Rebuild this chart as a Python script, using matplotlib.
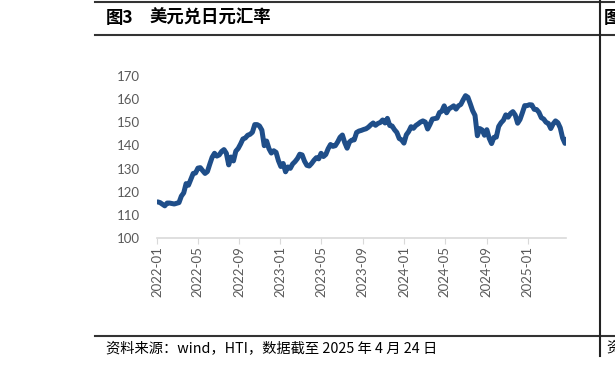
import matplotlib
matplotlib.use("Agg")
import matplotlib.pyplot as plt
import matplotlib.dates as mdates
from matplotlib.lines import Line2D
import pandas as pd

plt.rcParams['font.family'] = ['Noto Sans CJK SC', 'DejaVu Sans']

# USD/JPY, weekly (Mondays) from 2022-01-03, last point 2025-04-24
y2022 = [115.6, 115.3, 114.6, 113.9, 115.1,
         115.1, 114.9, 114.7, 115.0,
         115.3, 118.1, 119.5, 123.5,
         122.8, 125.3, 127.9, 128.1,
         130.2, 130.4, 129.1, 127.9, 128.7,
         131.9, 134.9, 136.6, 135.4,
         135.9, 137.4, 138.2, 136.6,
         131.6, 135.0, 133.3, 137.5, 138.7,
         140.6, 142.8, 143.2, 144.4,
         144.8, 145.7, 149.0, 149.0, 148.4,
         146.6, 139.9, 141.9, 138.6,
         136.7, 137.7, 137.0, 133.4]
y2023 = [130.9, 132.2, 128.6, 130.7, 130.1,
         132.0, 133.0, 134.3, 136.2,
         135.9, 133.2, 131.4, 131.1,
         132.2, 133.6, 134.7, 134.2,
         136.6, 135.2, 136.1, 138.6, 140.4,
         139.6, 139.9, 141.5, 143.5,
         144.5, 141.2, 138.8, 141.5, 142.3,
         142.4, 145.6, 146.2, 146.5,
         146.9, 147.2, 147.9, 148.9,
         149.7, 148.7, 149.5, 149.9, 151.0,
         149.7, 151.7, 148.6, 148.4,
         146.8, 145.6, 143.0, 142.4]
y2024 = [141.0, 144.6, 146.0, 148.1, 147.4,
         148.6, 149.3, 150.1, 150.6,
         150.1, 147.1, 149.1, 151.4,
         151.6, 151.8, 154.2, 154.8, 157.1,
         154.1, 155.8, 156.4, 157.1,
         155.7, 157.1, 157.7, 159.7,
         161.5, 160.8, 158.0, 155.0, 153.0,
         144.2, 147.3, 146.7, 144.4,
         146.8, 143.1, 140.8, 143.5, 143.6,
         148.2, 149.8, 150.9, 153.2,
         152.2, 153.8, 154.6, 153.1,
         149.6, 151.2, 154.1, 157.2]
y2025 = [157.2, 157.6, 157.5, 155.6, 155.5,
         154.3, 152.0, 151.4, 150.0,
         149.5, 147.3, 149.3, 150.6, 149.8,
         147.6, 143.2, 140.9,
         142.7]

usdjpy = y2022 + y2023 + y2024 + y2025
dates = list(pd.date_range('2022-01-03', periods=len(usdjpy) - 1, freq='7D')) + [pd.Timestamp('2025-04-24')]

W, H = 615, 367
fig = plt.figure(figsize=(W / 100, H / 100), dpi=100)

ax = fig.add_axes([157 / W, 1 - 238 / H, (566 - 157) / W, (238 - 76) / H])
ax.plot(dates, usdjpy, color='#1f4e89', lw=3.6, solid_joinstyle='round', solid_capstyle='round')

ax.set_ylim(100, 170)
ax.set_yticks(range(100, 171, 10))
ax.set_xlim(pd.Timestamp('2022-01-01'), pd.Timestamp('2025-04-24'))
ax.set_xticks(pd.date_range('2022-01-01', '2025-01-01', freq='4MS'))
ax.xaxis.set_major_formatter(mdates.DateFormatter('%Y-%m'))
for s in ['top', 'right', 'left']:
    ax.spines[s].set_visible(False)
ax.spines['bottom'].set_color('#d9d9d9')
ax.spines['bottom'].set_linewidth(1.2)
ax.tick_params(axis='x', length=4, color='#d9d9d9', labelcolor='#595959', labelsize=9.5,
               rotation=90, pad=2)
ax.tick_params(axis='y', length=0, labelcolor='#595959', labelsize=9.5, pad=12)
for lab in ax.get_xticklabels() + ax.get_yticklabels():
    lab.set_family(['Lato', 'DejaVu Sans'])

# frame lines
def hline(y, x0=95, x1=615, lw=1.5):
    fig.add_artist(Line2D([x0 / W, x1 / W], [1 - y / H] * 2, transform=fig.transFigure,
                          color='#333333', lw=lw))

hline(2)
hline(35)
hline(336)
fig.add_artist(Line2D([600 / W] * 2, [1, 1 - 356 / H], transform=fig.transFigure,
                      color='#222222', lw=1.5))

fig.text(106 / W, 1 - 18 / H, '图3', fontsize=12.5, fontweight='bold', va='center', ha='left')
fig.text(149 / W, 1 - 18 / H, '美元兑日元汇率', fontsize=12.5, fontweight='bold',
         va='center', ha='left')
fig.text(604 / W, 1 - 18 / H, '图', fontsize=12.5, fontweight='bold', va='center', ha='left')
fig.text(106 / W, 1 - 348 / H, '资料来源：wind，HTI，数据截至 2025 年 4 月 24 日',
         fontsize=10.3, va='center', ha='left')
fig.text(606 / W, 1 - 348 / H, '资', fontsize=10.3, va='center', ha='left')

fig.savefig('out.png', dpi=100)
